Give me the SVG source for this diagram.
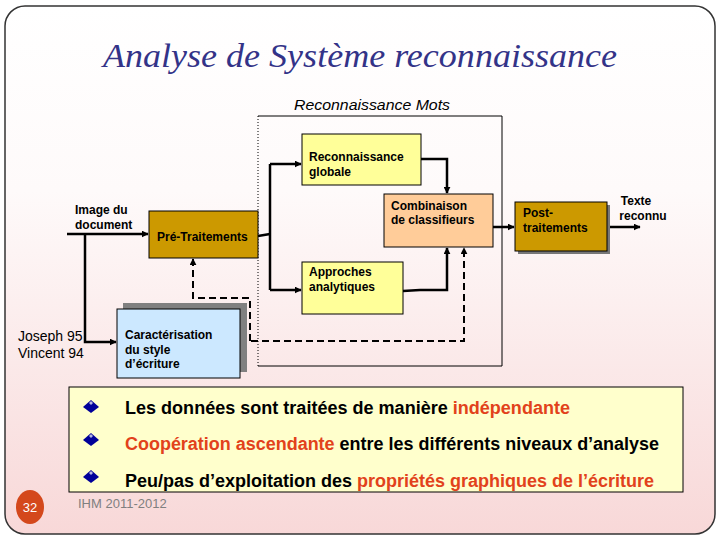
<svg xmlns="http://www.w3.org/2000/svg" width="720" height="540" viewBox="0 0 720 540">
<defs>
<linearGradient id="bg" x1="0" y1="0" x2="0" y2="1">
<stop offset="0" stop-color="#ffffff"/>
<stop offset="0.35" stop-color="#fefafa"/>
<stop offset="1" stop-color="#f8d8d8"/>
</linearGradient>
<marker id="ah" viewBox="0 0 10 10" refX="9" refY="5" markerWidth="7" markerHeight="7" markerUnits="userSpaceOnUse" orient="auto">
<path d="M0,0 L10,5 L0,10 z" fill="#000"/>
</marker>
<marker id="ahb" viewBox="0 0 10 10" refX="9" refY="5" markerWidth="8" markerHeight="8" markerUnits="userSpaceOnUse" orient="auto">
<path d="M0,0 L10,5 L0,10 z" fill="#000"/>
</marker>
</defs>
<style>
.box{stroke:#000;stroke-width:1}
.lbl{font-family:"Liberation Sans",Arial,sans-serif;font-size:12px;font-weight:bold;fill:#000}
.thin{font-family:"Liberation Sans",Arial,sans-serif;font-size:14px;fill:#000}
.solid{fill:none;stroke:#000;stroke-width:2.5}
.dash{fill:none;stroke:#000;stroke-width:2;stroke-dasharray:7,4}
.bul{font-family:"Liberation Sans",Arial,sans-serif;font-size:18px;font-weight:bold;fill:#000}
.red{fill:#e2421b}
</style>
<rect x="0" y="0" width="720" height="540" fill="#fff"/>
<rect x="5" y="6" width="710" height="528" rx="20" ry="20" fill="url(#bg)" stroke="#333" stroke-width="1.5"/>

<text x="360" y="67" text-anchor="middle" font-family="Liberation Serif, Times New Roman, serif" font-style="italic" font-size="34" fill="#333388" textLength="514" lengthAdjust="spacingAndGlyphs">Analyse de Système reconnaissance</text>

<g id="region">
<text x="372" y="110" text-anchor="middle" font-family="Liberation Sans, Arial, sans-serif" font-style="italic" font-size="14" fill="#000" textLength="156" lengthAdjust="spacingAndGlyphs">Reconnaissance Mots</text>
<path d="M258,116 H502 V366 H258" fill="none" stroke="#000" stroke-width="1"/>
<path d="M258,116 V366" fill="none" stroke="#000" stroke-width="1" stroke-dasharray="1,2"/>
</g>

<g id="connectors">
<path class="solid" d="M67,234 H148" marker-end="url(#ah)"/>
<path class="solid" d="M85,234 V342 H116" marker-end="url(#ah)"/>
<path class="solid" d="M258,236 L270,234"/>
<path class="solid" d="M270,164 V290"/>
<path class="solid" d="M270,164 H301" marker-end="url(#ah)"/>
<path class="solid" d="M270,290 H301" marker-end="url(#ah)"/>
<path class="solid" d="M421,159 H447 V193" marker-end="url(#ah)"/>
<path class="solid" d="M403,291 L420,290 H447 V248" marker-end="url(#ah)"/>
<path class="solid" d="M493,227 H514" marker-end="url(#ah)"/>
<path class="solid" d="M607,227 H640" marker-end="url(#ah)"/>
<path class="dash" d="M240,341 H464 V248" marker-end="url(#ah)"/>
<path class="dash" d="M250,341 V298 H193 V259" marker-end="url(#ah)"/>
</g>

<g id="image-doc">
<text class="lbl" x="75" y="214">Image du</text>
<text class="lbl" x="75" y="229">document</text>
</g>

<g id="pretraitements">
<rect class="box" x="149" y="211" width="109" height="47" fill="#cc9900"/>
<text class="lbl" x="157" y="241">Pré-Traitements</text>
</g>

<g id="reco-globale">
<rect class="box" x="302" y="134" width="119" height="51" fill="#ffff99"/>
<text class="lbl" x="309" y="161">Reconnaissance</text>
<text class="lbl" x="309" y="176">globale</text>
</g>

<g id="combinaison">
<rect class="box" x="384" y="194" width="109" height="53" fill="#ffcc99"/>
<text class="lbl" x="391" y="210">Combinaison</text>
<text class="lbl" x="391" y="224">de classifieurs</text>
</g>

<g id="approches">
<rect class="box" x="302" y="262" width="101" height="52" fill="#ffff99"/>
<text class="lbl" x="309" y="276">Approches</text>
<text class="lbl" x="309" y="291">analytiques</text>
</g>

<g id="post">
<rect x="518" y="205" width="92" height="49" fill="#777"/>
<rect class="box" x="515" y="202" width="92" height="49" fill="#cc9900"/>
<text class="lbl" x="523" y="217">Post-</text>
<text class="lbl" x="523" y="232">traitements</text>
</g>

<g id="texte-reconnu">
<text class="lbl" x="636" y="205" text-anchor="middle">Texte</text>
<text class="lbl" x="643" y="220" text-anchor="middle">reconnu</text>
</g>

<g id="caracterisation">
<rect x="123" y="303" width="124" height="69" fill="#808080"/>
<rect class="box" x="117" y="309" width="123" height="69" fill="#cce8ff"/>
<text class="lbl" x="125" y="339">Caractérisation</text>
<text class="lbl" x="125" y="354">du style</text>
<text class="lbl" x="125" y="368">d’écriture</text>
</g>

<g id="refs">
<text class="thin" x="18" y="341">Joseph 95</text>
<text class="thin" x="18" y="358">Vincent 94</text>
</g>

<g id="bullets">
<rect x="69" y="387" width="614" height="105" fill="#ffffcc" stroke="#000" stroke-width="1"/>
<g fill="#000099">
<polygon points="91,400 99,407 91,413 83,407"/>
<polygon points="91,433 99,440 91,446 83,440"/>
<polygon points="91,470 99,477 91,483 83,477"/>
</g>
<g fill="#fff" opacity="0.7">
<polygon points="89,403 91,401 93,403 91,405"/>
<polygon points="89,436 91,434 93,436 91,438"/>
<polygon points="89,473 91,471 93,473 91,475"/>
</g>
<text class="bul" x="125" y="414" textLength="445" lengthAdjust="spacingAndGlyphs">Les données sont traitées de manière <tspan class="red">indépendante</tspan></text>
<text class="bul" x="125" y="450" textLength="534" lengthAdjust="spacingAndGlyphs"><tspan class="red">Coopération ascendante</tspan> entre les différents niveaux d’analyse</text>
<text class="bul" x="125" y="487" textLength="529" lengthAdjust="spacingAndGlyphs">Peu/pas d’exploitation des <tspan class="red">propriétés graphiques de l’écriture</tspan></text>
</g>

<g id="footer">
<ellipse cx="30" cy="507" rx="14" ry="17" fill="#d4481c"/>
<text x="30" y="512" text-anchor="middle" font-family="Liberation Sans, Arial, sans-serif" font-size="13" fill="#fff">32</text>
<text x="78" y="508" font-family="Liberation Sans, Arial, sans-serif" font-size="13" fill="#808080">IHM 2011-2012</text>
</g>
</svg>
